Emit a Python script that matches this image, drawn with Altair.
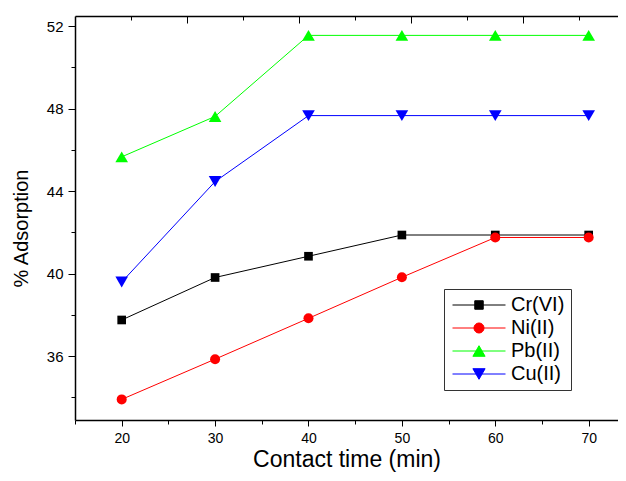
import altair as alt
import pandas as pd

# ---- data ----
times = [20, 30, 40, 50, 60, 70]
series_names = ["Cr(VI)", "Ni(II)", "Pb(II)", "Cu(II)"]
cr_vals = [37.75, 39.81, 40.84, 41.87, 41.87, 41.87]
ni_vals = [33.90, 35.85, 37.83, 39.82, 41.75, 41.75]
pb_vals = [45.66, 47.62, 51.55, 51.55, 51.55, 51.55]
cu_vals = [39.59, 44.46, 47.66, 47.66, 47.66, 47.66]

series_colors = ["#000000", "#ff0000", "#00ff00", "#0000ff"]
series_shapes = ["square", "circle", "triangle-up", "triangle-down"]
marker_sizes = [75, 100, 160, 160]
legend_paths = [
    "M-1,0H1M-0.16,-0.16H0.16V0.16H-0.16Z",
    "M-1,0H1M0.19,0A0.19,0.19,0,1,1,-0.19,0A0.19,0.19,0,1,1,0.19,0Z",
    "M-1,0H1M0,-0.2L0.23,0.2L-0.23,0.2Z",
    "M-1,0H1M0,0.2L0.23,-0.2L-0.23,-0.2Z",
]

x_major = [20, 30, 40, 50, 60, 70]
x_minor = [15, 25, 35, 45, 55, 65]
top_major = [27, 39, 51, 63]
top_minor = [21, 33, 45, 57, 69]
y_major = [36, 40, 44, 48, 52]
y_minor = [34, 38, 42, 46, 50]

rows = []
for name, vals in zip(series_names, [cr_vals, ni_vals, pb_vals, cu_vals]):
    for t, v in zip(times, vals):
        rows.append({"time": t, "ads": v, "metal": name})
df = pd.DataFrame(rows)

FONT = "Liberation Sans"
W, H = 543, 404

xscale = alt.Scale(domain=[15, 73.14], nice=False, zero=False)
yscale = alt.Scale(domain=[32.9, 52.49], nice=False, zero=False)


def ax(**kw):
    base = dict(grid=False, tickColor="black", domainColor="black",
                labelColor="black", labelFont=FONT, tickWidth=1,
                domainWidth=1.5, titleFont=FONT, titleColor="black",
                titleFontWeight="normal", labelFlush=False, labelOverlap=False)
    base.update(kw)
    return alt.Axis(**base)


ax_bottom_major = ax(orient="bottom", values=x_major, tickSize=6, labelFontSize=14,
                     labelPadding=5, title="Contact time (min)", titleFontSize=23,
                     titlePadding=3)
ax_bottom_minor = ax(orient="bottom", values=x_minor, tickSize=4, labels=False,
                     domain=False, title=None)
ax_top_major = ax(orient="bottom", offset=-H, values=top_major, tickSize=7,
                  labels=False, domain=True, title=None)
ax_top_minor = ax(orient="bottom", offset=-H, values=top_minor, tickSize=4,
                  labels=False, domain=False, title=None)
ax_left_major = ax(orient="left", values=y_major, tickSize=7, labelFontSize=15,
                   labelPadding=5, title="% Adsorption", titleFontSize=20,
                   titleX=-44, titleY=212)
ax_left_minor = ax(orient="left", values=y_minor, tickSize=4, labels=False,
                   domain=False, title=None)

base = alt.Chart(df)

x_axes = [ax_bottom_major, ax_bottom_minor, ax_top_major, ax_top_minor]
y_axes = [ax_left_major, ax_left_minor, None, None]

line_layers = []
point_layers = []
for i, name in enumerate(series_names):
    sub = base.transform_filter(alt.datum.metal == name)
    line_layers.append(
        sub.mark_line(strokeWidth=1, color=series_colors[i]).encode(
            x=alt.X("time:Q", scale=xscale, axis=x_axes[i]),
            y=alt.Y("ads:Q", scale=yscale, axis=y_axes[i]),
        )
    )
    point_layers.append(
        sub.mark_point(filled=True, opacity=1, shape=series_shapes[i],
                       size=marker_sizes[i], color=series_colors[i]).encode(
            x=alt.X("time:Q", scale=xscale, axis=None),
            y=alt.Y("ads:Q", scale=yscale, axis=None),
        )
    )

leg = alt.Legend(
    orient="none", legendX=369, legendY=273, title=None,
    padding=6, strokeColor="#333333", fillColor="white", cornerRadius=0,
    labelFont=FONT, labelFontSize=20, labelColor="black", labelOffset=5,
    labelExpr="datum.label + ' '",
    symbolSize=2809, symbolStrokeWidth=1, symbolOpacity=1, clipHeight=20,
    rowPadding=3, symbolOffset=2,
)
legend_scale_fill = alt.Scale(domain=series_names, range=series_colors)
legend_scale_stroke = alt.Scale(domain=series_names, range=series_colors)
legend_scale_shape = alt.Scale(domain=series_names, range=legend_paths)

# legend-only layer: its points are filtered away, the legend is built from the scale domains
legend_layer = base.transform_filter("datum.time > 1000").mark_point(
    filled=True, size=2809
).encode(
    x=alt.X("time:Q", scale=xscale, axis=None),
    y=alt.Y("ads:Q", scale=yscale, axis=None),
    fill=alt.Fill("metal:N", scale=legend_scale_fill, legend=leg),
    stroke=alt.Stroke("metal:N", scale=legend_scale_stroke, legend=leg),
    shape=alt.Shape("metal:N", scale=legend_scale_shape, legend=leg),
)

chart = (
    alt.layer(*line_layers, *point_layers, legend_layer)
    .resolve_axis(x="independent", y="independent")
    .properties(
        width=W, height=H,
        padding={"left": 67, "top": 8, "right": 0, "bottom": 52},
        autosize=alt.AutoSizeParams(type="none"),
    )
    .configure_view(stroke=None)
)

chart.save("out.html", embed_options={"renderer": "svg", "actions": False})
